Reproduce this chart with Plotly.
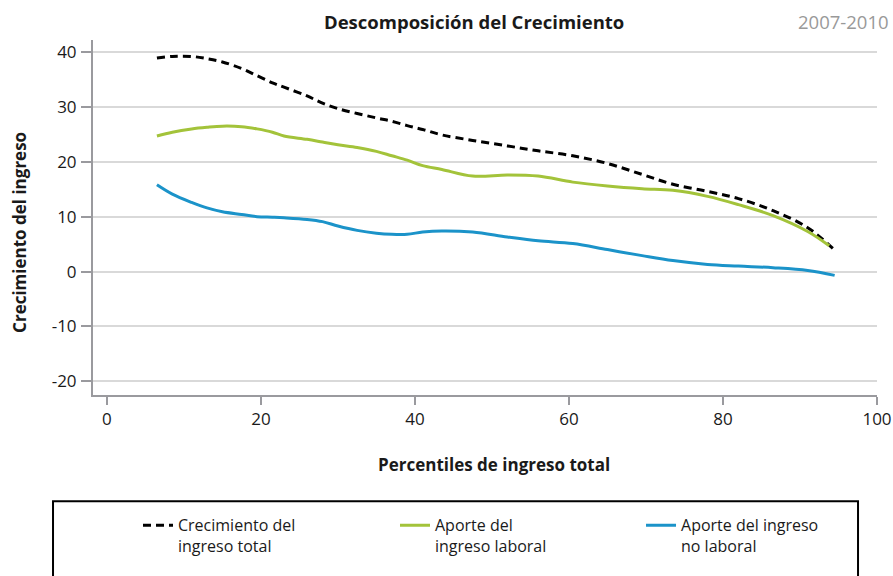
import plotly.graph_objects as go

# ---- data ----
percentiles = [6.5, 8.5, 11, 13, 15, 17.5, 19.5, 21.5, 23, 26, 28, 30, 32.5, 35, 37,
               39, 41, 43.5, 47.5, 52, 56, 60.5, 65, 69.5, 73.5, 78, 82, 86.5, 91, 94.5]
percentiles_laboral = [6.5, 8.5, 11, 13, 15, 17.5, 19.5, 21.5, 23, 26, 28, 30, 32.5, 35, 37,
                       39, 41, 43.5, 47.5, 52, 56, 60.5, 65, 69.5, 73.5, 78, 82, 86.5, 91, 93.8]
crecimiento_total = [38.9, 39.2, 39.2, 38.8, 38.2, 37.0, 35.7, 34.4, 33.6, 32.0, 30.7, 29.7,
                     28.8, 28.0, 27.4, 26.6, 25.9, 24.9, 23.9, 22.9, 22.0, 21.1, 19.7, 17.7,
                     15.9, 14.6, 13.3, 11.1, 8.0, 3.9]
aporte_laboral = [24.7, 25.4, 26.0, 26.3, 26.5, 26.4, 26.0, 25.4, 24.7, 24.1, 23.6, 23.1,
                  22.6, 21.9, 21.1, 20.3, 19.3, 18.6, 17.4, 17.6, 17.4, 16.3, 15.6, 15.1,
                  14.8, 13.7, 12.2, 10.2, 7.3, 4.7]
aporte_no_laboral = [15.8, 14.1, 12.6, 11.6, 10.9, 10.4, 10.0, 9.9, 9.8, 9.5, 9.1, 8.3,
                     7.5, 7.0, 6.8, 6.8, 7.2, 7.4, 7.2, 6.3, 5.6, 5.1, 4.0, 2.9,
                     2.0, 1.3, 1.0, 0.7, 0.2, -0.7]

series_names = ["Crecimiento del<br>ingreso total",
                "Aporte del<br>ingreso laboral",
                "Aporte del ingreso<br>no laboral"]
x_ticks = [0, 20, 40, 60, 80, 100]
y_ticks = [-20, -10, 0, 10, 20, 30, 40]
y_ticktext = ["-20", "-10", "0", "10", "20", "30", "40"]

title_text = "Descomposición del Crecimiento"
period_text = "2007-2010"
x_title = "Percentiles de ingreso total"
y_title = "Crecimiento del ingreso"

FONT = "Open Sans"
AXIS_GRAY = "#9a9a9e"
TEXT = "#1a1a1a"

FIG_W, FIG_H = 893, 576

fig = go.Figure()
fig.add_trace(go.Scatter(x=percentiles, y=crecimiento_total, name=series_names[0], legend="legend",
                         mode="lines", line=dict(color="#000000", width=3, dash="8px,5px", shape="spline")))
fig.add_trace(go.Scatter(x=percentiles_laboral, y=aporte_laboral, name=series_names[1], legend="legend2",
                         mode="lines", line=dict(color="#a3c33a", width=3, shape="spline")))
fig.add_trace(go.Scatter(x=percentiles, y=aporte_no_laboral, name=series_names[2], legend="legend3",
                         mode="lines", line=dict(color="#1b93c9", width=3, shape="spline")))


def legend_box(x_frac):
    return dict(orientation="v", xref="paper", yref="paper",
                x=x_frac, y=-0.3193, xanchor="left", yanchor="top",
                valign="top", font=dict(family=FONT, size=16, color=TEXT),
                bgcolor="rgba(0,0,0,0)", borderwidth=0)


fig.update_layout(
    width=FIG_W, height=FIG_H,
    margin=dict(l=93, r=16, t=40, b=179),
    paper_bgcolor="white", plot_bgcolor="white",
    font=dict(family=FONT, size=16, color=TEXT),
    showlegend=True,
    legend=legend_box(0.0574),
    legend2=legend_box(0.3852),
    legend3=legend_box(0.699),
    xaxis=dict(range=[-1.8, 100], tickvals=x_ticks, showgrid=False, zeroline=False,
               showline=True, linecolor=AXIS_GRAY, linewidth=2, automargin=False,
               ticks="outside", ticklen=8, tickwidth=2, tickcolor=AXIS_GRAY,
               ticklabelstandoff=0, tickfont=dict(size=17, color=TEXT)),
    yaxis=dict(range=[-22.5, 42.2], tickvals=y_ticks, ticktext=y_ticktext,
               showgrid=True, gridcolor="#d9d9d9", gridwidth=2, zeroline=False,
               showline=True, linecolor=AXIS_GRAY, linewidth=2, automargin=False,
               ticks="outside", ticklen=10, tickwidth=2, tickcolor=AXIS_GRAY,
               ticklabelstandoff=1, tickfont=dict(size=17, color=TEXT)),
    annotations=[
        dict(text="<b>" + title_text + "</b>", xref="paper", yref="paper", x=0.4865, y=1.0532,
             xanchor="center", yanchor="middle", showarrow=False, font=dict(size=18.5, color=TEXT)),
        dict(text=period_text, xref="paper", yref="paper", x=1.0179, y=1.0532,
             xanchor="right", yanchor="middle", showarrow=False, font=dict(size=18.5, color="#999999")),
        dict(text="<b>" + x_title + "</b>", xref="paper", yref="paper", x=0.5115, y=-0.196,
             xanchor="center", yanchor="middle", showarrow=False, font=dict(size=17, color=TEXT)),
        dict(text="<b>" + y_title + "</b>", xref="paper", yref="paper", x=-0.0931, y=0.4566,
             xanchor="center", yanchor="middle", textangle=-90, showarrow=False,
             font=dict(size=17, color=TEXT)),
    ],
    shapes=[
        # extension of the x axis line beyond the last tick
        dict(type="line", xref="x", yref="paper", x0=100, x1=103, y0=0, y1=0,
             line=dict(color=AXIS_GRAY, width=2)),
        # legend frame (runs off the bottom of the page)
        dict(type="rect", xref="paper", yref="paper", x0=-0.051, x1=0.9758, y0=-0.2996, y1=-0.6,
             line=dict(color="#000000", width=2), fillcolor="rgba(0,0,0,0)"),
    ],
)

# remove the browser's default 8px page margin so the 893x576 figure fills the window exactly
fig.write_html("out.html", config={"displayModeBar": False},
               post_script="document.body.style.margin='0';")
